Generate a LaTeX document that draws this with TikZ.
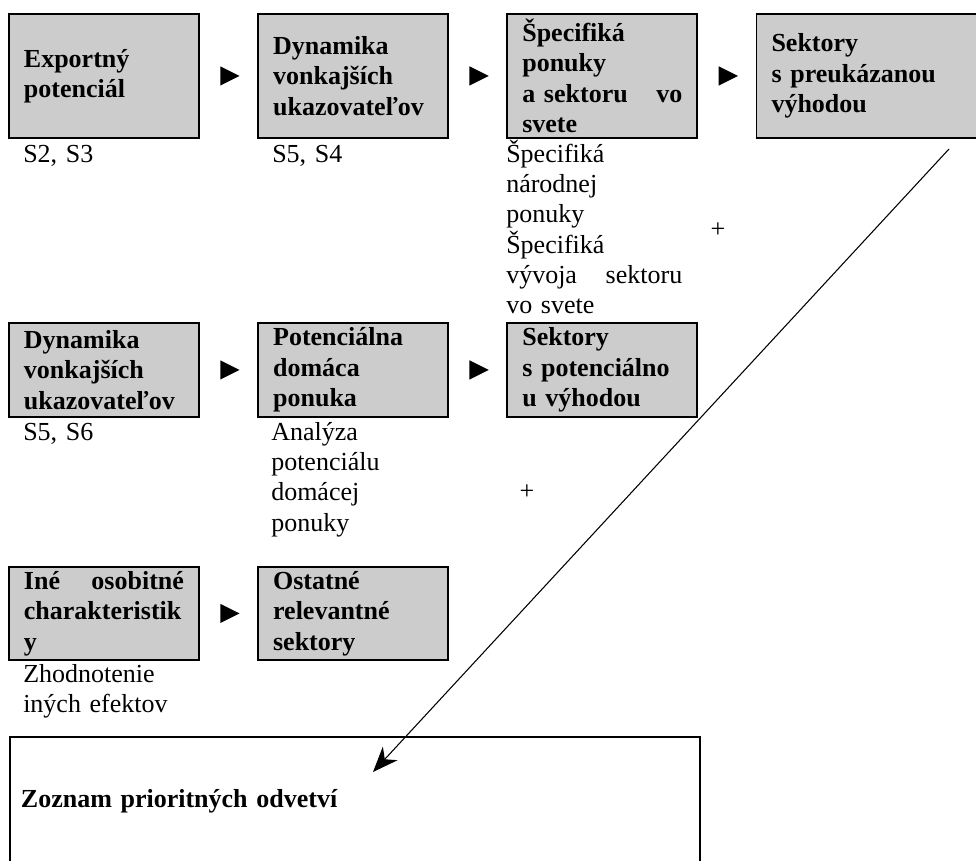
\documentclass[tikz,border=0pt]{standalone}
\usepackage{fontspec}
\setmainfont{Liberation Serif}
\usepackage{tikz}
\usetikzlibrary{calc,positioning,arrows.meta,shapes.geometric}
\newcommand{\figfont}{\fontsize{19.5pt}{22.75pt}\selectfont}

\begin{document}
\begin{tikzpicture}[x=0.75pt,y=-0.75pt,node distance=43pt,
  box/.style={draw,line width=1.4pt,fill=black!20,anchor=north west,
    text width=120pt,inner xsep=11.25pt,inner ysep=0pt,align=left,
    font=\figfont\bfseries},
  listbox/.style={draw,line width=1.4pt,anchor=north west,text width=501pt,
    inner xsep=8.25pt,inner ysep=0pt,minimum height=96pt,align=left,
    font=\figfont\bfseries},
  note/.style={anchor=base west,inner sep=0pt,text width=#1,align=left,
    font=\figfont},
  note/.default=130pt,
  pointer/.style={isosceles triangle,isosceles triangle stretches,
    fill=black,inner sep=0pt,minimum width=14.5pt,minimum height=14.5pt},
  plus/.style={inner sep=0pt,font=\figfont}]
\useasboundingbox (0,0) rectangle (976,861);
\clip (0,0) rectangle (976,861);

\node[box,minimum height=93pt] (b1) at (8,13) {Exportný\\potenciál};
\node[box,minimum height=93pt,right=of b1] (b2) {Dynamika\\vonkajších\\ukazovateľov};
\node[box,minimum height=93pt,right=of b2] (b3) {Špecifiká\\ponuky\\a sektoru\hfill vo\\svete};
\node[box,minimum height=93pt,text width=175pt,right=of b3] (b4) {Sektory\\s preukázanou\\výhodou};

\node[box,minimum height=70.5pt] (b5) at (8,322) {Dynamika\\vonkajších\\ukazovateľov};
\node[box,minimum height=70.5pt,right=of b5] (b6) {Potenciálna\\domáca\\ponuka};
\node[box,minimum height=70.5pt,right=of b6] (b7) {Sektory\\s potenciálno\\u výhodou};

\node[box,minimum height=69.75pt] (b8) at (8,566) {Iné\hfill osobitné\\charakteristik\\y};
\node[box,minimum height=69.75pt,right=of b8] (b9) {Ostatné\\relevantné\\sektory};

\node[pointer] (p12) at ($(b1.east)!.46!(b2.west)$) {};
\node[pointer] (p23) at ($(b2.east)!.46!(b3.west)$) {};
\node[pointer] (p34) at ($(b3.east)!.46!(b4.west)$) {};
\node[pointer] (p56) at ($(b5.east)!.46!(b6.west)$) {};
\node[pointer] (p67) at ($(b6.east)!.46!(b7.west)$) {};
\node[pointer] (p89) at ($(b8.east)!.46!(b9.west)$) {};

\node[note] (n1) at (23,162) {S2, S3};
\node[note] (n2) at (272,162) {S5, S4};
\node[note=132pt] (n3) at (506,162) {Špecifiká\\národnej\\ponuky\\Špecifiká\\vývoja\hfill sektoru\\vo svete};
\node[plus] (plus1) at (718,230) {+};
\node[note] (n5) at (23,440) {S5, S6};
\node[note] (n6) at (271,440) {Analýza\\potenciálu\\domácej\\ponuky};
\node[plus] (plus2) at (527,492) {+};
\node[note=160pt] (n8) at (23,682) {Zhodnotenie\\iných efektov};

\node[listbox] (list) at (9,736) {Zoznam prioritných odvetví};

\coordinate (from) at (949,149);
\coordinate (to) at (373,772);
\draw[line width=0.8pt,-{Stealth[length=19pt,width=15pt,inset=6pt]}] (from) -- (to);
\end{tikzpicture}
\end{document}
